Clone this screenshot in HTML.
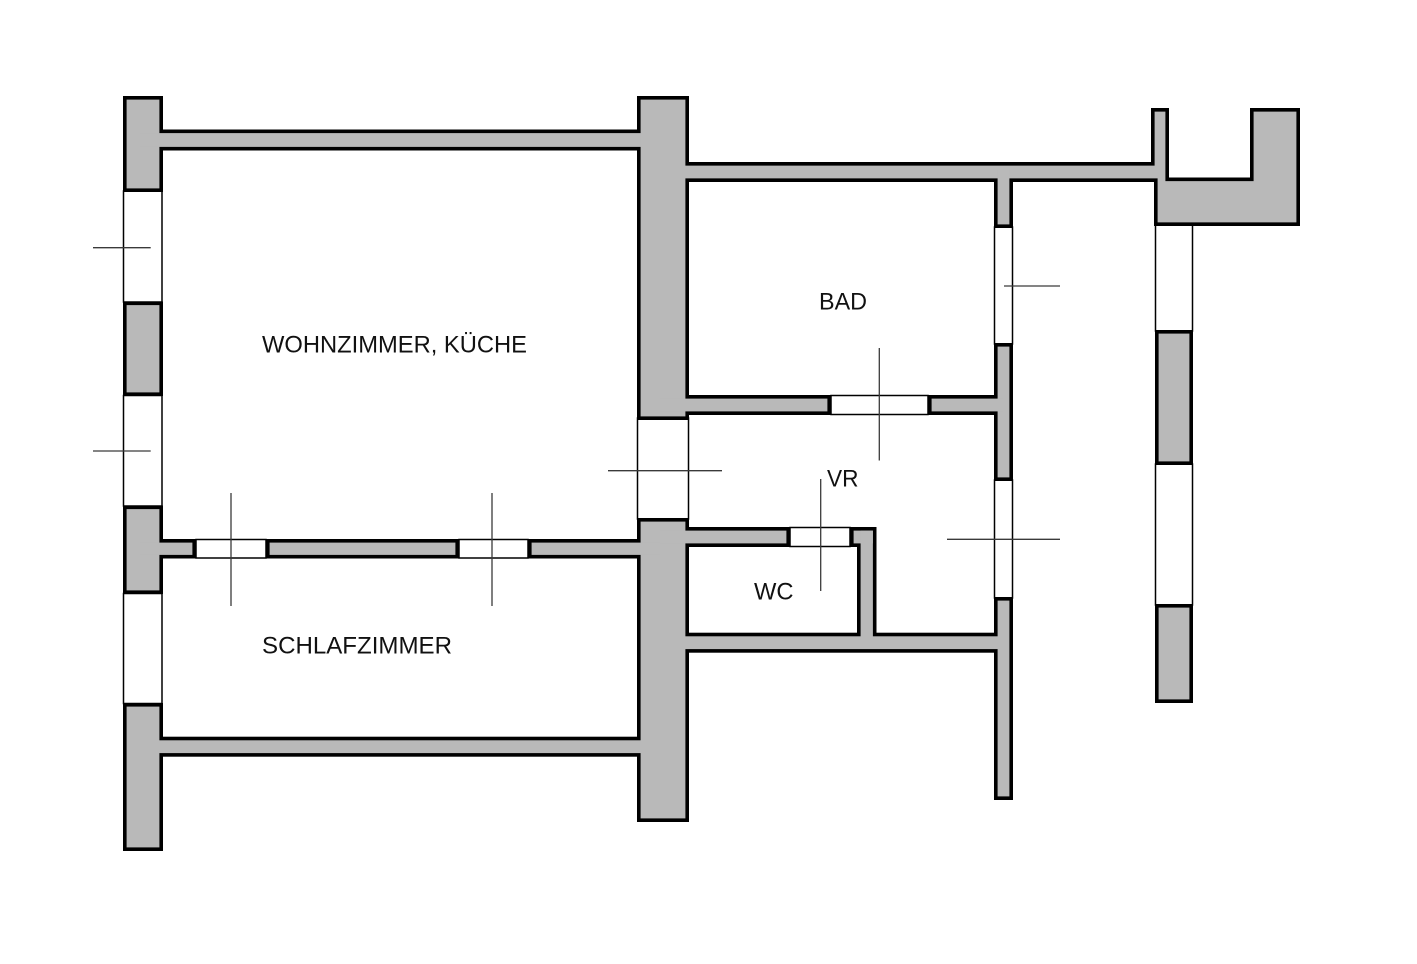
<!DOCTYPE html>
<html>
<head>
<meta charset="utf-8">
<style>
  html, body { margin: 0; padding: 0; background: #ffffff; }
  svg { display: block; }
  text { font-family: "Liberation Sans", "DejaVu Sans", sans-serif; font-size: 24px; fill: #111; }
</style>
</head>
<body>
<svg width="1417" height="964" viewBox="0 0 1417 964" xmlns="http://www.w3.org/2000/svg">
  <rect x="0" y="0" width="1417" height="964" fill="#ffffff"/>

  <!-- Windows and doors (white with thin outline) -->
  <g fill="#ffffff" stroke="#000" stroke-width="1.5">
    <!-- left column windows -->
    <rect x="123.5" y="191" width="38.5" height="111"/>
    <rect x="123.5" y="395.5" width="38.5" height="110.5"/>
    <rect x="123.5" y="593.5" width="38.5" height="110"/>
    <!-- central pillar window -->
    <rect x="637.5" y="418" width="51" height="101"/>
    <!-- doors wohnzimmer/schlafzimmer -->
    <rect x="196" y="539.5" width="70" height="18.5"/>
    <rect x="459" y="539.5" width="69" height="18.5"/>
    <!-- bad door -->
    <rect x="831" y="395.5" width="97" height="19"/>
    <!-- wc door -->
    <rect x="790" y="527.5" width="60" height="19"/>
    <!-- corridor wall windows -->
    <rect x="994.5" y="227" width="18" height="117"/>
    <rect x="994.5" y="480" width="18" height="118"/>
    <!-- right column windows -->
    <rect x="1155.5" y="224" width="37" height="107"/>
    <rect x="1155.5" y="464" width="37" height="141"/>
  </g>

  <defs>
    <g id="walls">
      <!-- left column pillars -->
      <rect x="126.6" y="99.6" width="32.8" height="88.8"/>
      <rect x="126.6" y="305.1" width="32.8" height="87.3"/>
      <rect x="126.6" y="509.1" width="32.8" height="81.3"/>
      <rect x="126.6" y="706.6" width="32.8" height="140.8"/>
      <!-- top wall left -->
      <rect x="140" y="133.1" width="520" height="13.8"/>
      <!-- central pillar -->
      <rect x="640.6" y="99.6" width="44.8" height="316.8"/>
      <rect x="640.6" y="521.6" width="44.8" height="296.8"/>
      <!-- wohnzimmer / schlafzimmer wall -->
      <rect x="140" y="542.6" width="52.4" height="12.3"/>
      <rect x="269.6" y="542.6" width="185.8" height="12.3"/>
      <rect x="531.6" y="542.6" width="128.4" height="12.3"/>
      <!-- bottom wall -->
      <rect x="140" y="740.3" width="520" height="12.8"/>
      <!-- upper right compound -->
      <polygon points="660,165.6 1154.6,165.6 1154.6,111.6 1165.4,111.6 1165.4,181.1 1253.6,181.1 1253.6,111.6 1296.4,111.6 1296.4,222.4 1157.6,222.4 1157.6,178.4 660,178.4"/>
      <!-- right column pillars -->
      <rect x="1158.6" y="333.6" width="30.8" height="127.8"/>
      <rect x="1158.6" y="607.6" width="30.8" height="91.8"/>
      <!-- corridor wall -->
      <rect x="997.6" y="170" width="11.8" height="54.4"/>
      <rect x="997.6" y="346.6" width="11.8" height="130.8"/>
      <rect x="997.6" y="600.6" width="11.8" height="195.8"/>
      <!-- bad / vr wall -->
      <rect x="660" y="398.6" width="167.4" height="12.8"/>
      <rect x="931.6" y="398.6" width="71.4" height="12.8"/>
      <!-- vr / wc wall -->
      <rect x="660" y="530.6" width="126.4" height="12.8"/>
      <rect x="853.6" y="530.6" width="19.3" height="12.8"/>
      <rect x="860.6" y="530.6" width="12.3" height="109.4"/>
      <!-- bottom vr wall -->
      <rect x="660" y="636.3" width="343" height="12.8"/>
    </g>
  </defs>

  <use href="#walls" fill="#b9b9b9" stroke="#000" stroke-width="7.2" stroke-linejoin="miter"/>
  <use href="#walls" fill="#b9b9b9" stroke="none"/>

  <!-- cross lines -->
  <g stroke="#3a3a3a" stroke-width="1.3" fill="none">
    <line x1="93" y1="247.7" x2="150.7" y2="247.7"/>
    <line x1="93" y1="451" x2="150.7" y2="451"/>
    <line x1="608" y1="470.7" x2="722" y2="470.7"/>
    <line x1="231" y1="493" x2="231" y2="606"/>
    <line x1="492" y1="493" x2="492" y2="606"/>
    <line x1="879.3" y1="348" x2="879.3" y2="460.5"/>
    <line x1="820.7" y1="479" x2="820.7" y2="591"/>
    <line x1="947" y1="539.3" x2="1060" y2="539.3"/>
    <line x1="1004" y1="286" x2="1060" y2="286"/>
  </g>

  <!-- labels -->
  <text x="262" y="352.7" textLength="265" lengthAdjust="spacingAndGlyphs">WOHNZIMMER, KÜCHE</text>
  <text x="819" y="309.3" textLength="48" lengthAdjust="spacingAndGlyphs">BAD</text>
  <text x="827" y="486.7" textLength="31.5" lengthAdjust="spacingAndGlyphs">VR</text>
  <text x="754" y="599.3" textLength="39.5" lengthAdjust="spacingAndGlyphs">WC</text>
  <text x="262" y="653.3" textLength="190" lengthAdjust="spacingAndGlyphs">SCHLAFZIMMER</text>
</svg>
</body>
</html>
